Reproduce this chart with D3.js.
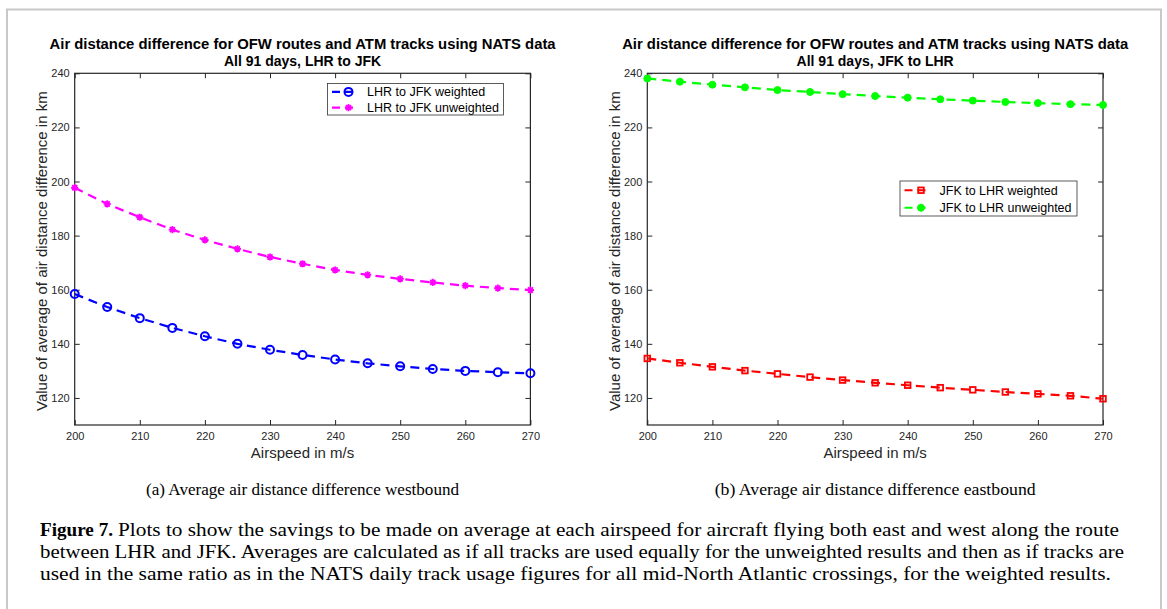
<!DOCTYPE html>
<html>
<head>
<meta charset="UTF-8">
<script src="https://d3js.org/d3.v7.min.js"></script>
<style>
  body { margin: 0; background: #fff; }
  .tick text { font-family: "Liberation Sans", Arial, sans-serif; font-size: 11px; fill: #262626; }
  .tick line { stroke: #262626; }
  .domain { display: none; }
</style>
</head>
<body>
<svg id="fig" width="1167" height="609"></svg>
<script>
// ---- data ----
var airspeed = [200, 205, 210, 215, 220, 225, 230, 235, 240, 245, 250, 255, 260, 265, 270];
var lhrJfkWeighted   = [158.4, 153.6, 149.5, 145.9, 142.8, 140.0, 137.8, 135.9, 134.2, 132.8, 131.7, 130.7, 130.0, 129.5, 129.1];
var lhrJfkUnweighted = [197.7, 191.7, 186.8, 182.2, 178.4, 175.1, 172.1, 169.6, 167.3, 165.5, 164.0, 162.7, 161.5, 160.6, 159.9];
var jfkLhrWeighted   = [134.6, 133.0, 131.5, 130.1, 128.9, 127.7, 126.6, 125.6, 124.7, 123.8, 123.0, 122.2, 121.5, 120.8, 119.7];
var jfkLhrUnweighted = [238.1, 236.9, 235.8, 234.8, 233.8, 233.1, 232.3, 231.6, 231.0, 230.4, 229.9, 229.4, 229.0, 228.6, 228.3];

var xTicks = [200, 210, 220, 230, 240, 250, 260, 270];
var yTicks = [120, 140, 160, 180, 200, 220, 240];
var xDomain = [200, 270];
var yDomain = [110, 240];

var titleLine1 = "Air distance difference for OFW routes and ATM tracks using NATS data";
var xLabel = "Airspeed in m/s";
var yLabel = "Value of average of air distance difference in km";

var panels = [
  {
    left: 74.7, sub: "All 91 days, LHR to JFK",
    caption: "(a) Average air distance difference westbound", captionLen: 313,
    legend: {x: 327.5, y: 83.5, w: 176, h: 31.5},
    series: [
      {name: "LHR to JFK weighted", values: lhrJfkWeighted, color: "#0000ff", marker: "circle"},
      {name: "LHR to JFK unweighted", values: lhrJfkUnweighted, color: "#ff00ff", marker: "star"}
    ]
  },
  {
    left: 647.3, sub: "All 91 days, JFK to LHR",
    caption: "(b) Average air distance difference eastbound", captionLen: 321,
    legend: {x: 900, y: 181, w: 177, h: 35},
    series: [
      {name: "JFK to LHR weighted", values: jfkLhrWeighted, color: "#ff0000", marker: "square"},
      {name: "JFK to LHR unweighted", values: jfkLhrUnweighted, color: "#00ff00", marker: "dot"}
    ]
  }
];

var plotW = 455.7, plotTop = 73.3, plotH = 351.7;
var sans = "Liberation Sans, Arial, sans-serif";

var svg = d3.select("#fig");

// outer frame
svg.append("rect")
  .attr("x", 7).attr("y", 9.5)
  .attr("width", 1154).attr("height", 620)
  .attr("fill", "none").attr("stroke", "#c8c8c8").attr("stroke-width", 2);

function drawMarker(g, type, color) {
  if (type == "circle") {
    g.append("circle").attr("r", 4).attr("fill", "none").attr("stroke", color).attr("stroke-width", 2);
  } else if (type == "dot") {
    g.append("circle").attr("r", 3.5).attr("fill", color).attr("stroke", color).attr("stroke-width", 1);
  } else if (type == "square") {
    g.append("rect").attr("x", -2.8).attr("y", -2.8).attr("width", 5.6).attr("height", 5.6)
      .attr("fill", "none").attr("stroke", color).attr("stroke-width", 1.8);
  } else {
    var r = 3.6, k = 0.7 * r;
    g.append("path")
      .attr("d", "M" + (-r) + ",0H" + r + "M0," + (-r) + "V" + r +
                 "M" + (-k) + "," + (-k) + "L" + k + "," + k + "M" + (-k) + "," + k + "L" + k + "," + (-k))
      .attr("stroke", color).attr("stroke-width", 1.8).attr("fill", "none");
  }
}

panels.forEach(function(p) {
  var x = d3.scaleLinear().domain(xDomain).range([0, plotW]);
  var y = d3.scaleLinear().domain(yDomain).range([plotH, 0]);

  var g = svg.append("g").attr("transform", "translate(" + p.left + "," + plotTop + ")");

  // axes (ticks pointing inward on all four sides)
  g.append("g").attr("transform", "translate(0," + plotH + ")")
    .call(d3.axisBottom(x).tickValues(xTicks).tickSizeInner(-5).tickSizeOuter(0).tickPadding(7));
  g.append("g")
    .call(d3.axisLeft(y).tickValues(yTicks).tickSizeInner(-5).tickSizeOuter(0).tickPadding(5));
  g.append("g")
    .call(d3.axisTop(x).tickValues(xTicks).tickSizeInner(-5).tickSizeOuter(0).tickFormat(""));
  g.append("g").attr("transform", "translate(" + plotW + ",0)")
    .call(d3.axisRight(y).tickValues(yTicks).tickSizeInner(-5).tickSizeOuter(0).tickFormat(""));

  g.append("rect").attr("width", plotW).attr("height", plotH)
    .attr("fill", "none").attr("stroke", "#262626").attr("stroke-width", 1.2);

  // series
  var line = d3.line().x(function(d, i) { return x(airspeed[i]); }).y(function(d) { return y(d); });
  p.series.forEach(function(s) {
    g.append("path").datum(s.values)
      .attr("d", line)
      .attr("fill", "none").attr("stroke", s.color).attr("stroke-width", 2.2)
      .attr("stroke-dasharray", "9,6");
    g.selectAll(null).data(s.values).enter().append("g")
      .attr("transform", function(d, i) { return "translate(" + x(airspeed[i]) + "," + y(d) + ")"; })
      .each(function() { drawMarker(d3.select(this), s.marker, s.color); });
  });

  // titles
  var cx = plotW / 2;
  g.append("text").attr("x", cx).attr("y", -24)
    .attr("text-anchor", "middle").attr("font-family", sans)
    .attr("font-weight", "bold").attr("font-size", 14).attr("fill", "#000")
    .attr("textLength", 506).attr("lengthAdjust", "spacingAndGlyphs").text(titleLine1);
  g.append("text").attr("x", cx).attr("y", -7)
    .attr("text-anchor", "middle").attr("font-family", sans)
    .attr("font-weight", "bold").attr("font-size", 14).attr("fill", "#000").text(p.sub);

  g.append("text").attr("x", cx).attr("y", plotH + 33.5)
    .attr("text-anchor", "middle").attr("font-family", sans)
    .attr("font-size", 15).attr("fill", "#262626").text(xLabel);
  g.append("text")
    .attr("transform", "translate(-27.5," + (plotH / 2 + 2) + ") rotate(-90)")
    .attr("text-anchor", "middle").attr("font-family", sans)
    .attr("font-size", 15).attr("fill", "#262626").text(yLabel);

  // legend
  var L = p.legend;
  var lg = svg.append("g").attr("transform", "translate(" + L.x + "," + L.y + ")");
  lg.append("rect").attr("width", L.w).attr("height", L.h)
    .attr("fill", "#fff").attr("stroke", "#333").attr("stroke-width", 0.8);
  p.series.forEach(function(s, i) {
    var ry = L.h * (0.25 + 0.5 * i) + 0.5;
    lg.append("line").attr("x1", 4.5).attr("x2", 29.5).attr("y1", ry).attr("y2", ry)
      .attr("stroke", s.color).attr("stroke-width", 2.2).attr("stroke-dasharray", "8,5");
    drawMarker(lg.append("g").attr("transform", "translate(21," + ry + ")"), s.marker, s.color);
    lg.append("text").attr("x", 39.5).attr("y", ry + 4.5)
      .attr("font-family", sans).attr("font-size", 12.5)
      .attr("fill", "#000").text(s.name);
  });

  // sub-caption
  svg.append("text").attr("x", p.left + cx).attr("y", 495)
    .attr("text-anchor", "middle").attr("font-family", "Liberation Serif, serif")
    .attr("font-size", 16.5).attr("fill", "#000")
    .attr("textLength", p.captionLen).attr("lengthAdjust", "spacingAndGlyphs")
    .text(p.caption);
});

// figure caption
var captionHead = "Figure 7.";
var captionLines = [
  "Plots to show the savings to be made on average at each airspeed for aircraft flying both east and west along the route",
  "between LHR and JFK. Averages are calculated as if all tracks are used equally for the unweighted results and then as if tracks are",
  "used in the same ratio as in the NATS daily track usage figures for all mid-North Atlantic crossings, for the weighted results."
];
var capFont = "Liberation Serif, serif";
svg.append("text").attr("x", 40).attr("y", 536).attr("font-family", capFont)
  .attr("font-size", 19).attr("font-weight", "bold")
  .attr("textLength", 73).attr("lengthAdjust", "spacingAndGlyphs").text(captionHead);
svg.append("text").attr("x", 118).attr("y", 536).attr("font-family", capFont).attr("font-size", 19)
  .attr("textLength", 1001).attr("lengthAdjust", "spacingAndGlyphs").text(captionLines[0]);
svg.append("text").attr("x", 40).attr("y", 558).attr("font-family", capFont).attr("font-size", 19)
  .attr("textLength", 1084).attr("lengthAdjust", "spacingAndGlyphs").text(captionLines[1]);
svg.append("text").attr("x", 40).attr("y", 580).attr("font-family", capFont).attr("font-size", 19)
  .attr("textLength", 1071).attr("lengthAdjust", "spacingAndGlyphs").text(captionLines[2]);
</script>
</body>
</html>
